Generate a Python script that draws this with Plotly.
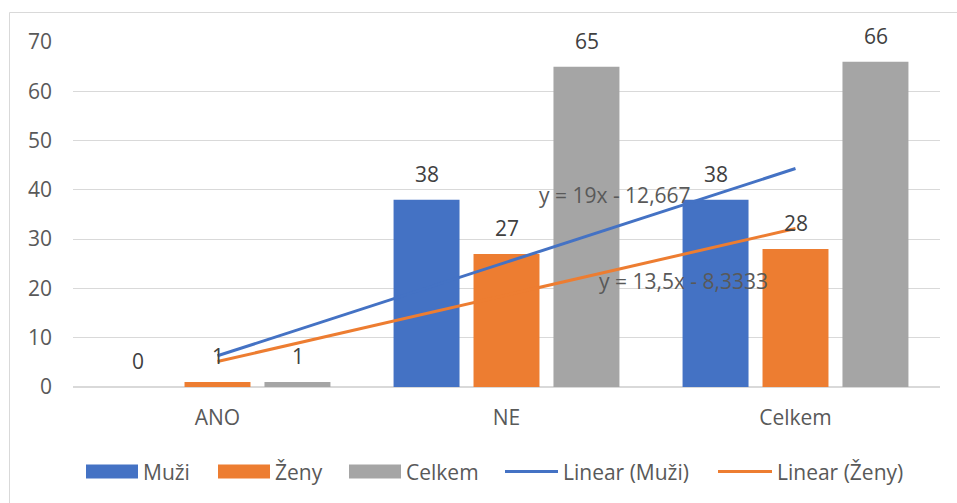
import numpy as np
import plotly.graph_objects as go

# Survey answers by group
categories = ["ANO", "NE", "Celkem"]
muzi = [0, 38, 38]
zeny = [1, 27, 28]
celkem = [1, 65, 66]

series_names = ["Muži", "Ženy", "Celkem"]
series_values = [muzi, zeny, celkem]
series_colors = ["#4472C4", "#ED7D31", "#A5A5A5"]
y_ticks = [0, 10, 20, 30, 40, 50, 60, 70]

FONT = "Open Sans"
FS = 21
TICK_COLOR = "#595959"
LABEL_COLOR = "#404040"
GRID = "#D9D9D9"

W, H = 957, 503
M_L, M_R, M_T, M_B = 73, 17, 42, 116
PW, PH = W - M_L - M_R, H - M_T - M_B


def px_x(p):
    return (p - M_L) / PW


def px_y(p):
    return (H - M_B - p) / PH


fig = go.Figure()

for name, vals, col in zip(series_names, series_values, series_colors):
    fig.add_trace(go.Bar(
        x=categories, y=vals, name=name,
        marker=dict(color=col, line=dict(width=0)),
        showlegend=False, hoverinfo="skip",
    ))

# Linear trendlines for Muži and Ženy over category index 1..n
idx = np.arange(1, len(categories) + 1)


def fmt(v):
    return f"{v:.5g}".replace(".", ",")


trend_specs = [("Linear (Muži)", muzi, "#4472C4"), ("Linear (Ženy)", zeny, "#ED7D31")]
trend_eq = []
for name, vals, col in trend_specs:
    slope, icpt = np.polyfit(idx, np.array(vals, dtype=float), 1)
    fig.add_trace(go.Scatter(
        x=categories, y=slope * idx + icpt, mode="lines", name=name,
        line=dict(color=col, width=3), showlegend=False, hoverinfo="skip",
    ))
    sign = "-" if icpt < 0 else "+"
    trend_eq.append(f"y = {fmt(slope)}x {sign} {fmt(abs(icpt))}")

annotations = []
# value labels above each bar
offsets = [-80, 0, 80]
for vals, dx in zip(series_values, offsets):
    for c, v in zip(categories, vals):
        annotations.append(dict(
            x=c, y=v, text=str(v), showarrow=False, xshift=dx, yshift=26,
            font=dict(family=FONT, size=FS, color=LABEL_COLOR),
        ))

# trendline equations
eq_pos = [(1.375, 39.0), (1.611, 21.5)]
for txt, (ex, ey) in zip(trend_eq, eq_pos):
    annotations.append(dict(
        x=ex, y=ey, text=txt, showarrow=False,
        font=dict(family=FONT, size=FS, color=TICK_COLOR),
    ))

# legend row
shapes = []
legend_items = [
    ("rect", "#4472C4", 86, 138, "Muži", 141),
    ("rect", "#ED7D31", 218, 270, "Ženy", 273),
    ("rect", "#A5A5A5", 349, 401, "Celkem", 404),
    ("line", "#4472C4", 505, 558, "Linear (Muži)", 561),
    ("line", "#ED7D31", 718, 772, "Linear (Ženy)", 775),
]
LEG_Y = 471.5
for kind, col, x0, x1, label, tx in legend_items:
    if kind == "rect":
        shapes.append(dict(type="rect", xref="paper", yref="paper",
                           x0=px_x(x0), x1=px_x(x1), y0=px_y(LEG_Y + 7), y1=px_y(LEG_Y - 7),
                           fillcolor=col, line=dict(width=0)))
    else:
        shapes.append(dict(type="line", xref="paper", yref="paper",
                           x0=px_x(x0), x1=px_x(x1), y0=px_y(LEG_Y), y1=px_y(LEG_Y),
                           line=dict(color=col, width=3)))
    annotations.append(dict(
        xref="paper", yref="paper", x=px_x(tx), y=px_y(LEG_Y), text=label,
        xanchor="left", yanchor="middle", showarrow=False,
        font=dict(family=FONT, size=FS, color=TICK_COLOR),
    ))

# chart frame
shapes.append(dict(type="rect", xref="paper", yref="paper",
                   x0=px_x(9.5), x1=px_x(970), y0=px_y(515), y1=px_y(12.5),
                   line=dict(color=GRID, width=1), fillcolor="rgba(0,0,0,0)", layer="below"))

fig.update_layout(
    width=W, height=H,
    margin=dict(l=M_L, r=M_R, t=M_T, b=M_B),
    paper_bgcolor="white", plot_bgcolor="white",
    barmode="group", bargap=0.17, bargroupgap=0.175,
    font=dict(family=FONT, size=FS, color=TICK_COLOR),
    showlegend=False,
    annotations=annotations, shapes=shapes,
    xaxis=dict(type="category", showgrid=False, showline=True, linecolor=GRID,
               linewidth=1, ticks="", tickfont=dict(family=FONT, size=FS, color=TICK_COLOR),
               ticklabelstandoff=12),
    yaxis=dict(range=[0, 70], tickvals=y_ticks, showgrid=True, gridcolor=GRID,
               gridwidth=1, zeroline=True, zerolinecolor=GRID, showline=False,
               ticks="", tickfont=dict(family=FONT, size=FS, color=TICK_COLOR),
               ticklabelstandoff=20),
)

fig.write_html("out.html")
